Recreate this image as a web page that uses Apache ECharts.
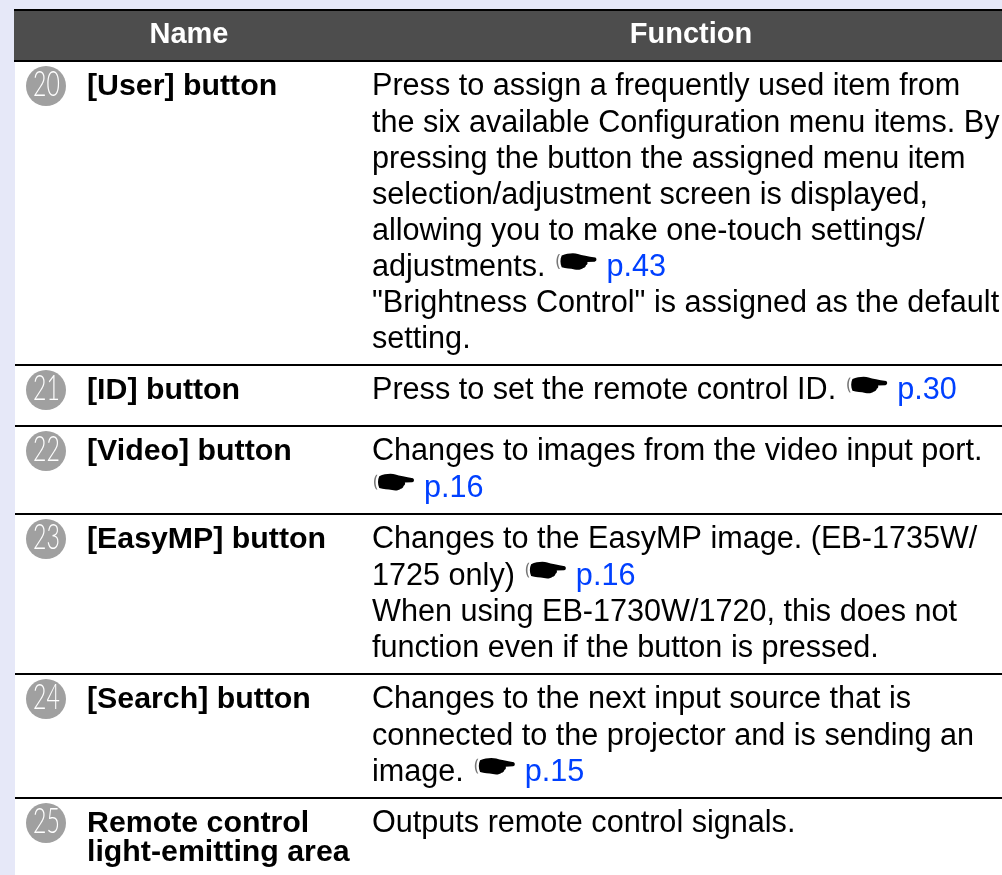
<!DOCTYPE html>
<html><head><meta charset="utf-8">
<style>html,body{margin:0;padding:0;background:#fff}#c{width:1002px;height:875px}</style>
<script src="https://cdn.jsdelivr.net/npm/echarts@6/dist/echarts.min.js"></script>
</head><body><div id="c"></div>
<script>
const headers = ['Name', 'Function'];
const numbers = ['20', '21', '22', '23', '24', '25'];
const names = [
  ['[User] button'], ['[ID] button'], ['[Video] button'], ['[EasyMP] button'], ['[Search] button'],
  ['Remote control', 'light-emitting area']
];
// "|" separates the running text from the page reference that follows the pointing-hand icon
const functions = [
  ['Press to assign a frequently used item from', 'the six available Configuration menu items. By', 'pressing the button the assigned menu item',
   'selection/adjustment screen is displayed,', 'allowing you to make one-touch settings/', 'adjustments.|p.43',
   '"Brightness Control" is assigned as the default', 'setting.'],
  ['Press to set the remote control ID.|p.30'],
  ['Changes to images from the video input port.', '|p.16'],
  ['Changes to the EasyMP image. (EB-1735W/', '1725 only)|p.16', 'When using EB-1730W/1720, this does not', 'function even if the button is pressed.'],
  ['Changes to the next input source that is', 'connected to the projector and is sending an', 'image.|p.15'],
  ['Outputs remote control signals.']
];
const rowBottoms = [365, 426, 514, 674, 798, 875];

const L = {left:15, nameX:87, funcX:372, headBottom:61, fs:30.6, nameFs:30.3, headFs:29, pitch:36.1, namePitch:29, base:0.75};
const font = '"Liberation Sans", Arial, sans-serif';
const handPath = 'M14 7 C30 0 50 -2 62 2 C74 7 92 8 114 13 C119 16 118 24 112 25 L90 26 C92 30 90 34 86 36 C86 40 82 44 78 44 C72 50 60 50 52 48 C40 46 26 46 14 42 C9 30 9 18 14 7 Z';
const cuffPath = 'M7 7 C0 16 0 32 7 42 L10 42 C4 32 4 16 10 7 Z';
const ctx = document.createElement('canvas').getContext('2d');
function widthOf(t, f){ctx.font=f;return ctx.measureText(t).width;}
const chart = echarts.init(document.getElementById('c'), null, {renderer:'canvas'});
// y is the text baseline; zrender positions text by its top edge
function txt(text,x,y,size,weight,fill){
  return {type:'text',style:{text,x,y:y-L.base*size,font:`${weight} ${size}px ${font}`,fill:fill||'#000',verticalAlign:'top'}};
}
function bodyLine(line,x,y){
  const out=[], f=`normal ${L.fs}px ${font}`, parts=line.split('|');
  if(parts[0]) out.push(txt(parts[0],x,y,L.fs,'normal'));
  if(parts.length>1){
    const hx = x + (parts[0] ? widthOf(parts[0],f)+11 : 2);
    out.push({type:'path',shape:{pathData:handPath,x:hx+4,y:y-22,width:36,height:17},style:{fill:'#000'}});
    out.push({type:'path',shape:{pathData:cuffPath,x:hx,y:y-21,width:3.5,height:15},style:{fill:'#777'}});
    out.push(txt(parts[1],hx+50,y,L.fs,'normal','#0040ff'));
  }
  return out;
}
function renderItem(params, api){
  const i = params.dataIndex, ch = [];
  const top = i===0 ? L.headBottom : rowBottoms[i-1];
  const oy = api.coord([0, top])[1];
  const sep = api.coord([0, rowBottoms[i]])[1];
  if(i<5) ch.push({type:'rect',shape:{x:L.left,y:sep-1,width:1002-L.left,height:2},style:{fill:'#000'}});
  ch.push({type:'circle',shape:{cx:46,cy:oy+25,r:20},style:{fill:'#a0a0a0'}});
  ch.push({type:'text',x:46.5,y:oy+24,scaleX:0.66,style:{text:numbers[i],x:0,y:0,font:`300 35px Lato, ${font}`,fill:'#fff',align:'center',verticalAlign:'middle'}});
  names[i].forEach((t,k)=>ch.push(txt(t,L.nameX,oy+33.5+k*L.namePitch,L.nameFs,'bold')));
  functions[i].forEach((t,k)=>ch.push(...bodyLine(t,L.funcX,oy+33.5+k*L.pitch)));
  return {type:'group',children:ch};
}
chart.setOption({
  animation:false,
  backgroundColor:'#fff',
  grid:{left:0,right:0,top:0,bottom:0},
  xAxis:{type:'value',min:0,max:1002,show:false},
  yAxis:{type:'value',min:0,max:875,inverse:true,show:false},
  graphic:[
    {type:'rect',z:0,shape:{x:0,y:0,width:L.left,height:875},style:{fill:'#e6e8f8'}},
    {type:'rect',z:0,shape:{x:0,y:0,width:1002,height:9},style:{fill:'#e6e8f8'}},
    {type:'rect',z:1,shape:{x:14,y:10,width:988,height:51},style:{fill:'#4d4d4d'}},
    {type:'rect',z:2,shape:{x:14,y:9,width:988,height:2},style:{fill:'#000'}},
    {type:'rect',z:2,shape:{x:14,y:60,width:988,height:2},style:{fill:'#000'}},
    {type:'text',z:3,style:{text:headers[0],x:189,y:42-L.base*L.headFs,font:`bold ${L.headFs}px ${font}`,fill:'#fff',align:'center',verticalAlign:'top'}},
    {type:'text',z:3,style:{text:headers[1],x:691,y:42-L.base*L.headFs,font:`bold ${L.headFs}px ${font}`,fill:'#fff',align:'center',verticalAlign:'top'}}
  ],
  series:[{type:'custom',coordinateSystem:'cartesian2d',renderItem,silent:true,clip:false,
    data:numbers.map((n,i)=>[0,rowBottoms[i]])}]
});
</script></body></html>
